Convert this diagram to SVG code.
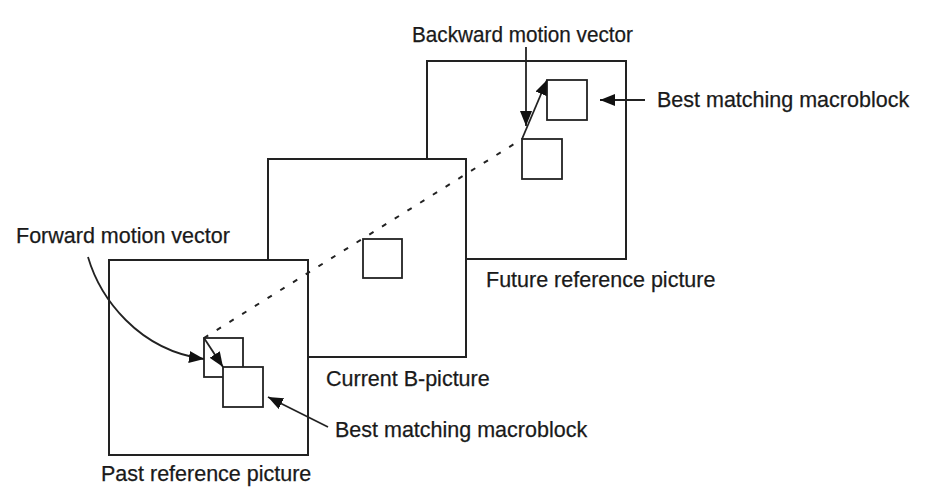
<svg xmlns="http://www.w3.org/2000/svg" width="941" height="497" viewBox="0 0 941 497">
<style>
.frame{fill:#fff;stroke:#222;stroke-width:2}
.blk{fill:#fff;stroke:#222;stroke-width:1.8}
.lbl{font-family:"Liberation Sans",Arial,sans-serif;font-size:21.5px;fill:#1a1a1a;stroke:#1a1a1a;stroke-width:0.25}
.arr{fill:none;stroke:#222;stroke-width:1.8}
.dash{fill:none;stroke:#222;stroke-width:2;stroke-dasharray:5 10}
</style>
<defs>
<marker id="ah" viewBox="0 0 15 12" refX="15" refY="6" markerWidth="15" markerHeight="12" markerUnits="userSpaceOnUse" orient="auto">
<path d="M0,0 L15,6 L0,12 z" fill="#111"/>
</marker>
</defs>
<rect width="941" height="497" fill="#fff"/>
<g id="future-frame">
<rect class="frame" x="427" y="61" width="199" height="198"/>
<rect class="blk" x="547" y="80" width="40" height="40"/>
<rect class="blk" x="522" y="139" width="40" height="40"/>
<text class="lbl" x="486" y="287">Future reference picture</text>
</g>
<g id="current-frame">
<rect class="frame" x="268" y="159" width="198" height="198"/>
<rect class="blk" x="363" y="239" width="39" height="39"/>
<text class="lbl" x="326" y="386">Current B-picture</text>
</g>
<g id="past-frame">
<rect class="frame" x="109" y="260" width="199" height="195"/>
<rect class="blk" x="204" y="338" width="39" height="39"/>
<rect class="blk" x="223" y="367" width="40" height="40"/>
<text class="lbl" x="101" y="481">Past reference picture</text>
</g>
<g id="label-backward">
<text class="lbl" x="412" y="42" textLength="221" lengthAdjust="spacingAndGlyphs">Backward motion vector</text>
</g>
<g id="label-forward">
<text class="lbl" x="16" y="243">Forward motion vector</text>
</g>
<g id="label-best-future">
<text class="lbl" x="657" y="107">Best matching macroblock</text>
</g>
<g id="label-best-past">
<text class="lbl" x="335" y="437">Best matching macroblock</text>
</g>
<g id="connectors">
<path class="dash" d="M204,338 L522,139"/>
<path class="arr" d="M522,139 L547,80" marker-end="url(#ah)"/>
<path class="arr" d="M526,47 L526,126" marker-end="url(#ah)"/>
<path class="arr" d="M645,100 L600,100" marker-end="url(#ah)"/>
<path class="arr" d="M204,338 L223,367" marker-end="url(#ah)"/>
<path class="arr" d="M88,257 C100,298 138,350 204,359" marker-end="url(#ah)"/>
<path class="arr" d="M328,427 L268,397" marker-end="url(#ah)"/>
</g>
</svg>
